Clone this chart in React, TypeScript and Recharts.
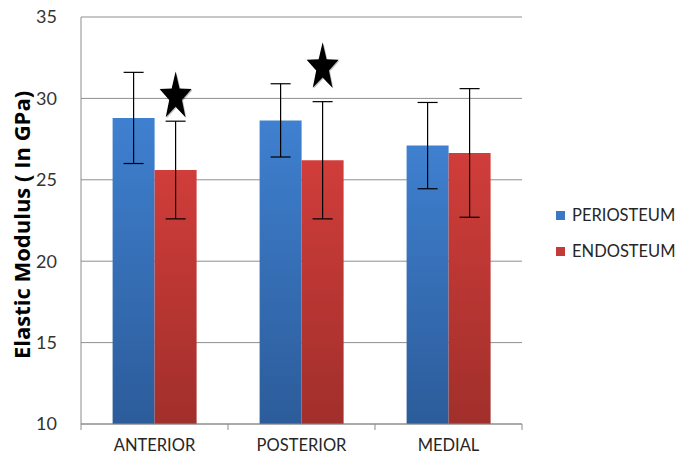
import React from "react";
import {
  Bar,
  BarChart,
  CartesianGrid,
  ErrorBar,
  LabelList,
  XAxis,
  YAxis,
} from "recharts";

const sites = ["ANTERIOR", "POSTERIOR", "MEDIAL"];
const periosteum = [28.8, 28.65, 27.1];
const periosteumSd = [2.8, 2.25, 2.65];
const endosteum = [25.6, 26.2, 26.65];
const endosteumSd = [3.0, 3.6, 3.95];
// star marks significant sites; value is where the star centre sits on the y scale
const starAt = [30.1, 31.9, null];
const yTicks = [10, 15, 20, 25, 30, 35];

const Y_MIN = 10;
const Y_MAX = 35;

const series = [
  { key: "periosteum", name: "PERIOSTEUM", color: "#3b78c4", top: "#3f80d0", bottom: "#2c5c9a" },
  { key: "endosteum", name: "ENDOSTEUM", color: "#c43a37", top: "#d03d3a", bottom: "#a12f2b" },
];

const data = sites.map((site, i) => ({
  site,
  periosteum: periosteum[i],
  periosteumSd: periosteumSd[i],
  endosteum: endosteum[i],
  endosteumSd: endosteumSd[i],
  star: starAt[i],
}));

const FONT = "Lato, 'Open Sans', sans-serif";

const starPath = (cx: number, cy: number, r: number, sy: number) => {
  const pts: string[] = [];
  for (let k = 0; k < 10; k++) {
    const rad = k % 2 === 0 ? r : r * 0.4;
    const a = -Math.PI / 2 + (k * Math.PI) / 5;
    pts.push(`${cx + rad * Math.cos(a)},${cy + rad * Math.sin(a) * sy}`);
  }
  return `M${pts.join("L")}Z`;
};

const StarMark = (props: any) => {
  const { x, y, width, height, index } = props;
  const s = starAt[index];
  if (s == null) return null;
  const v = endosteum[index];
  const pxPerUnit = height / (v - Y_MIN);
  const cx = x + width / 2;
  const cy = y - (s - v) * pxPerUnit;
  return (
    <g>
      <path d={starPath(cx + 1, cy + 1, 16.8, 1.5)} fill="#000" opacity={0.25} />
      <path d={starPath(cx, cy, 16.8, 1.5)} fill="#000" />
    </g>
  );
};

const SiteTick = (props: any) => {
  const { x, y, payload, index } = props;
  const half = payload.offset ?? 73.5;
  return (
    <g>
      <line x1={x - half} x2={x - half} y1={y - 8} y2={y - 2} stroke="#8c8c8c" />
      {index === sites.length - 1 && (
        <line x1={x + half} x2={x + half} y1={y - 8} y2={y - 2} stroke="#8c8c8c" />
      )}
      <text
        x={x}
        y={y + 19}
        textAnchor="middle"
        fontFamily={FONT}
        fontSize={16.5}
        fill="#262626"
      >
        {payload.value}
      </text>
    </g>
  );
};

export default function App() {
  return (
    <div
      style={{
        position: "absolute",
        left: 0,
        top: 0,
        width: 679,
        height: 462,
        background: "#fff",
      }}
    >
      <BarChart
        width={679}
        height={462}
        data={data}
        margin={{ top: 17, right: 157, bottom: 0, left: 0 }}
        barCategoryGap="21.5%"
        barGap={0}
      >
        <defs>
          {series.map((s) => (
            <linearGradient key={s.key} id={`grad-${s.key}`} x1="0" y1="0" x2="0" y2="1">
              <stop offset="0%" stopColor={s.top} />
              <stop offset="100%" stopColor={s.bottom} />
            </linearGradient>
          ))}
        </defs>
        <CartesianGrid vertical={false} stroke="#8f8f8f" strokeWidth={1} />
        <XAxis
          dataKey="site"
          height={38}
          axisLine={{ stroke: "#8c8c8c" }}
          tickLine={false}
          tick={<SiteTick />}
          interval={0}
        />
        <YAxis
          width={81}
          domain={[Y_MIN, Y_MAX]}
          ticks={yTicks}
          allowDataOverflow
          axisLine={{ stroke: "#8c8c8c" }}
          tickLine={false}
          tickMargin={18}
          tick={{ fontFamily: FONT, fontSize: 18, fill: "#333" }}
          label={() => (
            <text
              x={21}
              y={225}
              transform="rotate(-90 21 225)"
              textAnchor="middle"
              dominantBaseline="central"
              fontFamily="'Open Sans', sans-serif"
              fontWeight={700}
              fontSize={22}
              fill="#000"
            >
              Elastic Modulus ( In GPa)
            </text>
          )}
        />
        <Bar
          dataKey="periosteum"
          name="PERIOSTEUM"
          fill="url(#grad-periosteum)"
          isAnimationActive={false}
        >
          <ErrorBar dataKey="periosteumSd" width={10} stroke="#000" strokeWidth={1.2} />
        </Bar>
        <Bar
          dataKey="endosteum"
          name="ENDOSTEUM"
          fill="url(#grad-endosteum)"
          isAnimationActive={false}
        >
          <ErrorBar dataKey="endosteumSd" width={10} stroke="#000" strokeWidth={1.2} />
          <LabelList dataKey="star" content={<StarMark />} />
        </Bar>
      </BarChart>
      <div style={{ position: "absolute", left: 556, top: 205, whiteSpace: "nowrap" }}>
        {series.map((s, i) => (
          <div
            key={s.key}
            style={{
              display: "flex",
              alignItems: "center",
              height: 20,
              marginBottom: i === 0 ? 16 : 0,
              fontFamily: FONT,
              fontSize: 16.5,
              color: "#262626",
            }}
          >
            <span
              style={{
                display: "inline-block",
                width: 9,
                height: 9,
                background: s.color,
                marginRight: 7,
              }}
            />
            {s.name}
          </div>
        ))}
      </div>
    </div>
  );
}
